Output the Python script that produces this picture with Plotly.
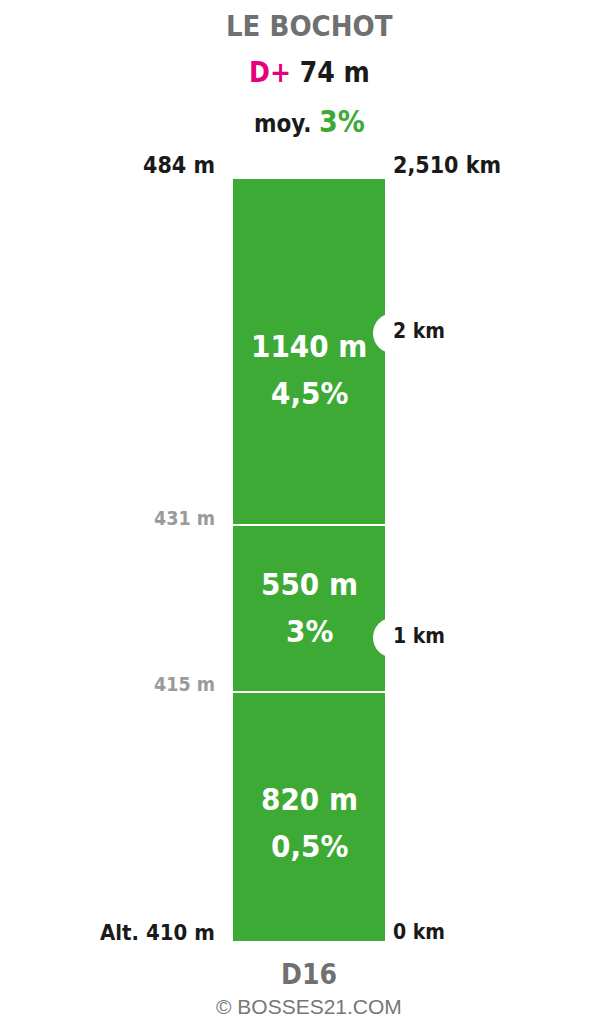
import plotly.graph_objects as go

# ---- data ----
title = "LE BOCHOT"
road = "D16"
d_plus_m = 74
avg_grade = "3%"
segment_lengths_m = [820, 550, 1140]
segment_grades = ["0,5%", "3%", "4,5%"]
altitudes_m = [410, 415, 431, 484]
km_marks = [1, 2]
total_label = "2,510 km"

GREEN = "#3DAA36"
BLACK = "#1a1a1a"
GRAY_T = "#707070"
GRAY_L = "#9a9a9a"
MAGENTA = "#E5007D"
FONT = "Liberation Sans Narrow, DejaVu Sans Condensed, Arial Narrow, sans-serif"

seg_km = [v / 1000 for v in segment_lengths_m]
bounds = [0]
for v in seg_km:
    bounds.append(bounds[-1] + v)
total_km = bounds[-1]

W, H = 592, 1016          # page adds 8px body margin
T, B = 170, 82
PH = H - T - B            # plot height in px

BAR_W = 1.54
half = BAR_W / 2

fig = go.Figure()
for L in seg_km:
    fig.add_trace(go.Bar(
        x=[0], y=[L], width=BAR_W,
        marker=dict(color=GREEN, line=dict(color="white", width=2)),
        hoverinfo="skip", showlegend=False,
    ))

# notches at km marks
fig.add_trace(go.Scatter(
    x=[0.84] * len(km_marks), y=km_marks, mode="markers",
    marker=dict(color="white", size=40, line=dict(width=0)),
    hoverinfo="skip", showlegend=False, cliponaxis=False,
))

ann = []
def A(x, y, text, size, color, xanchor="center", yshift=0, xref="x", yref="y",
      family=FONT, bold=True):
    f = dict(family=family, size=size, color=color)
    if bold:
        f["weight"] = "bold"
    ann.append(dict(x=x, y=y, xref=xref, yref=yref, text=text, showarrow=False,
                    xanchor=xanchor, yanchor="middle", yshift=yshift, font=f,
                    borderpad=0))

def py(p):
    # page pixel (from top) -> paper y
    return (H + 8 - B - p) / PH

# segment labels (two lines each)
offs = [6, -1, 18]
for i, (Lm, g) in enumerate(zip(segment_lengths_m, segment_grades)):
    mid = (bounds[i] + bounds[i + 1]) / 2
    A(0, mid, f"{Lm} m", 31, "white", yshift=24 - offs[i])
    A(0, mid, g, 31, "white", yshift=-23 - offs[i])

# left altitude labels
lx = -0.93
A(lx, 0, f"Alt. {altitudes_m[0]} m", 22, BLACK, xanchor="right", yshift=10)
A(lx, bounds[1], f"{altitudes_m[1]} m", 19.5, GRAY_L, xanchor="right", yshift=8)
A(lx, bounds[2], f"{altitudes_m[2]} m", 19.5, GRAY_L, xanchor="right", yshift=7)
A(lx, total_km, f"{altitudes_m[-1]} m", 23, BLACK, xanchor="right", yshift=13)

# right km labels
rx = 0.83
A(rx, 0, "0 km", 21, BLACK, xanchor="left", yshift=10)
for k in km_marks:
    A(rx, k, f"{k} km", 21, BLACK, xanchor="left", yshift=2)
A(rx, total_km, total_label, 23, BLACK, xanchor="left", yshift=13)

# header
A(0, py(26), title, 29, GRAY_T, yref="paper")
A(0, py(73), f"<span style='color:{MAGENTA}'>D+</span> {d_plus_m} m", 28, BLACK, yref="paper")
A(0, py(121), f"moy. <span style='color:{GREEN};font-size:30px'>{avg_grade}</span>", 24, BLACK, yref="paper")

# footer
A(0, py(974), road, 28, GRAY_T, yref="paper")
A(0, py(1006), "© BOSSES21.COM", 21, "#777777", yref="paper",
  family="Liberation Sans, Arial, sans-serif", bold=False)

fig.update_layout(
    width=W, height=H,
    margin=dict(l=0, r=0, t=T, b=B, pad=0),
    paper_bgcolor="white", plot_bgcolor="white",
    barmode="stack", bargap=0,
    xaxis=dict(range=[-3.01, 2.91], visible=False, fixedrange=True),
    yaxis=dict(range=[0, total_km], visible=False, fixedrange=True),
    annotations=ann,
    showlegend=False,
)

fig.write_html("out.html", config={"displayModeBar": False})
